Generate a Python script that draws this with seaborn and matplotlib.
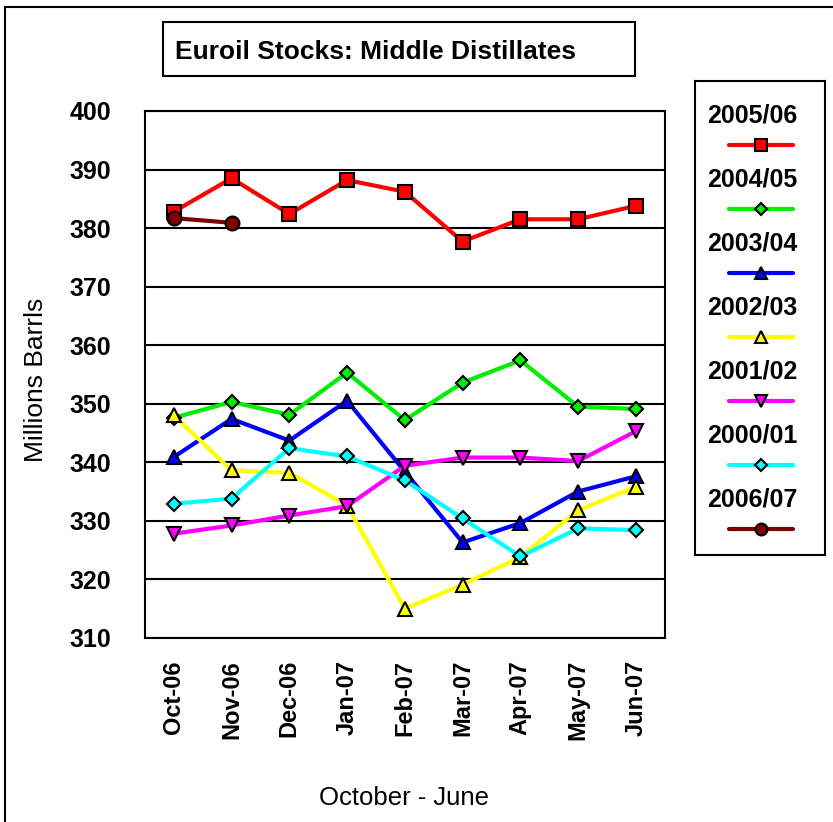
import matplotlib
matplotlib.use('Agg')
import matplotlib.pyplot as plt
from matplotlib.patches import Rectangle
from matplotlib.lines import Line2D
import pandas as pd
import seaborn as sns

sns.set_style('white')
plt.rcParams['font.family'] = ['Liberation Sans', 'DejaVu Sans']
plt.rcParams['text.color'] = 'black'
plt.rcParams['axes.labelcolor'] = 'black'
plt.rcParams['xtick.color'] = 'black'
plt.rcParams['ytick.color'] = 'black'

months = ['Oct-06', 'Nov-06', 'Dec-06', 'Jan-07', 'Feb-07', 'Mar-07', 'Apr-07', 'May-07', 'Jun-07']

s2005 = [382.8, 388.5, 382.4, 388.2, 386.2, 377.7, 381.5, 381.5, 383.8]
s2004 = [347.6, 350.3, 348.1, 355.3, 347.2, 353.6, 357.4, 349.5, 349.1]
s2003 = [340.9, 347.4, 343.7, 350.5, 338.4, 326.3, 329.6, 335.0, 337.6]
s2002 = [348.0, 338.6, 338.2, 332.6, 315.0, 319.1, 323.8, 331.8, 335.8]
s2001 = [327.8, 329.2, 330.9, 332.5, 339.4, 340.8, 340.8, 340.2, 345.3]
s2000 = [332.9, 333.8, 342.4, 341.0, 336.9, 330.4, 323.9, 328.7, 328.4]
s2006 = [381.7, 380.9]

seasons = ['2005/06', '2004/05', '2003/04', '2002/03', '2001/02', '2000/01', '2006/07']
values = [s2005, s2004, s2003, s2002, s2001, s2000, s2006]
colors = ['#ff0000', '#00ee00', '#0000ff', '#ffff00', '#ff00ff', '#00ffff', '#800000']
markers = ['s', 'D', '^', '^', 'v', 'D', 'o']
msizes = [10, 7, 10, 10, 10, 7, 10]

fig = plt.figure(figsize=(8.33, 8.22), dpi=100)
fig.patches.append(Rectangle((0.006, -0.1), 1.2, 0.1 + 0.992, transform=fig.transFigure,
                             fill=False, edgecolor='black', linewidth=1.5))

ax = fig.add_axes([0.174, 0.224, 0.624, 0.641])

for name, vals, col, mk, ms in zip(seasons, values, colors, markers, msizes):
    df = pd.DataFrame({'month': months[:len(vals)], 'value': vals})
    sns.lineplot(data=df, x='month', y='value', ax=ax, color=col, linewidth=3,
                 marker=mk, markersize=ms, markeredgecolor='black',
                 markeredgewidth=1.5, sort=False)

ax.set_ylim(310, 400)
ax.set_xlim(-0.5, len(months) - 0.5)
ax.set_yticks(range(310, 401, 10))
ax.yaxis.grid(True, color='black', linewidth=1.5)
ax.set_axisbelow(True)
for sp in ax.spines.values():
    sp.set_color('black')
    sp.set_linewidth(1.5)
ax.tick_params(axis='y', length=0, pad=24)
ax.tick_params(axis='x', length=0, pad=16)
ax.set_xticks(range(len(months)))
ax.set_xticklabels(months, rotation=90, fontsize=17, fontweight='bold')
for lab in ax.get_yticklabels():
    lab.set_fontsize(18)
    lab.set_fontweight('bold')
ax.set_xlabel('')
ax.set_ylabel('')
fig.text(36 / 833, 1 - 380 / 822, 'Millions Barrls', fontsize=19, rotation=90,
         ha='center', va='center')
fig.text(404 / 833, 1 - 798 / 822, 'October - June', fontsize=18.5, ha='center', va='center')

# title box
fig.patches.append(Rectangle((163 / 833, 1 - 76 / 822), 472 / 833, 54 / 822,
                             transform=fig.transFigure, fill=False,
                             edgecolor='black', linewidth=1.5))
fig.text(175 / 833, 1 - 52 / 822, 'Euroil Stocks: Middle Distillates',
         fontsize=19, fontweight='bold', ha='left', va='center')

# legend box
lax = fig.add_axes([695 / 833, 1 - 555 / 822, 130 / 833, 474 / 822])
lax.set_xlim(695, 825)
lax.set_ylim(555, 81)
lax.set_xticks([])
lax.set_yticks([])
for sp in lax.spines.values():
    sp.set_color('black')
    sp.set_linewidth(1.5)
for i, (name, col, mk, ms) in enumerate(zip(seasons, colors, markers, msizes)):
    ty = 115 + i * 64
    lax.text(752, ty, name, fontsize=18, fontweight='bold', ha='center', va='center')
    lax.add_line(Line2D([729, 793], [ty + 30, ty + 30], color=col, linewidth=3))
    lax.add_line(Line2D([761], [ty + 30], color=col, marker=mk, markersize=ms * 0.85,
                        markeredgecolor='black', markeredgewidth=1.5))

fig.savefig('out.png', dpi=100)
